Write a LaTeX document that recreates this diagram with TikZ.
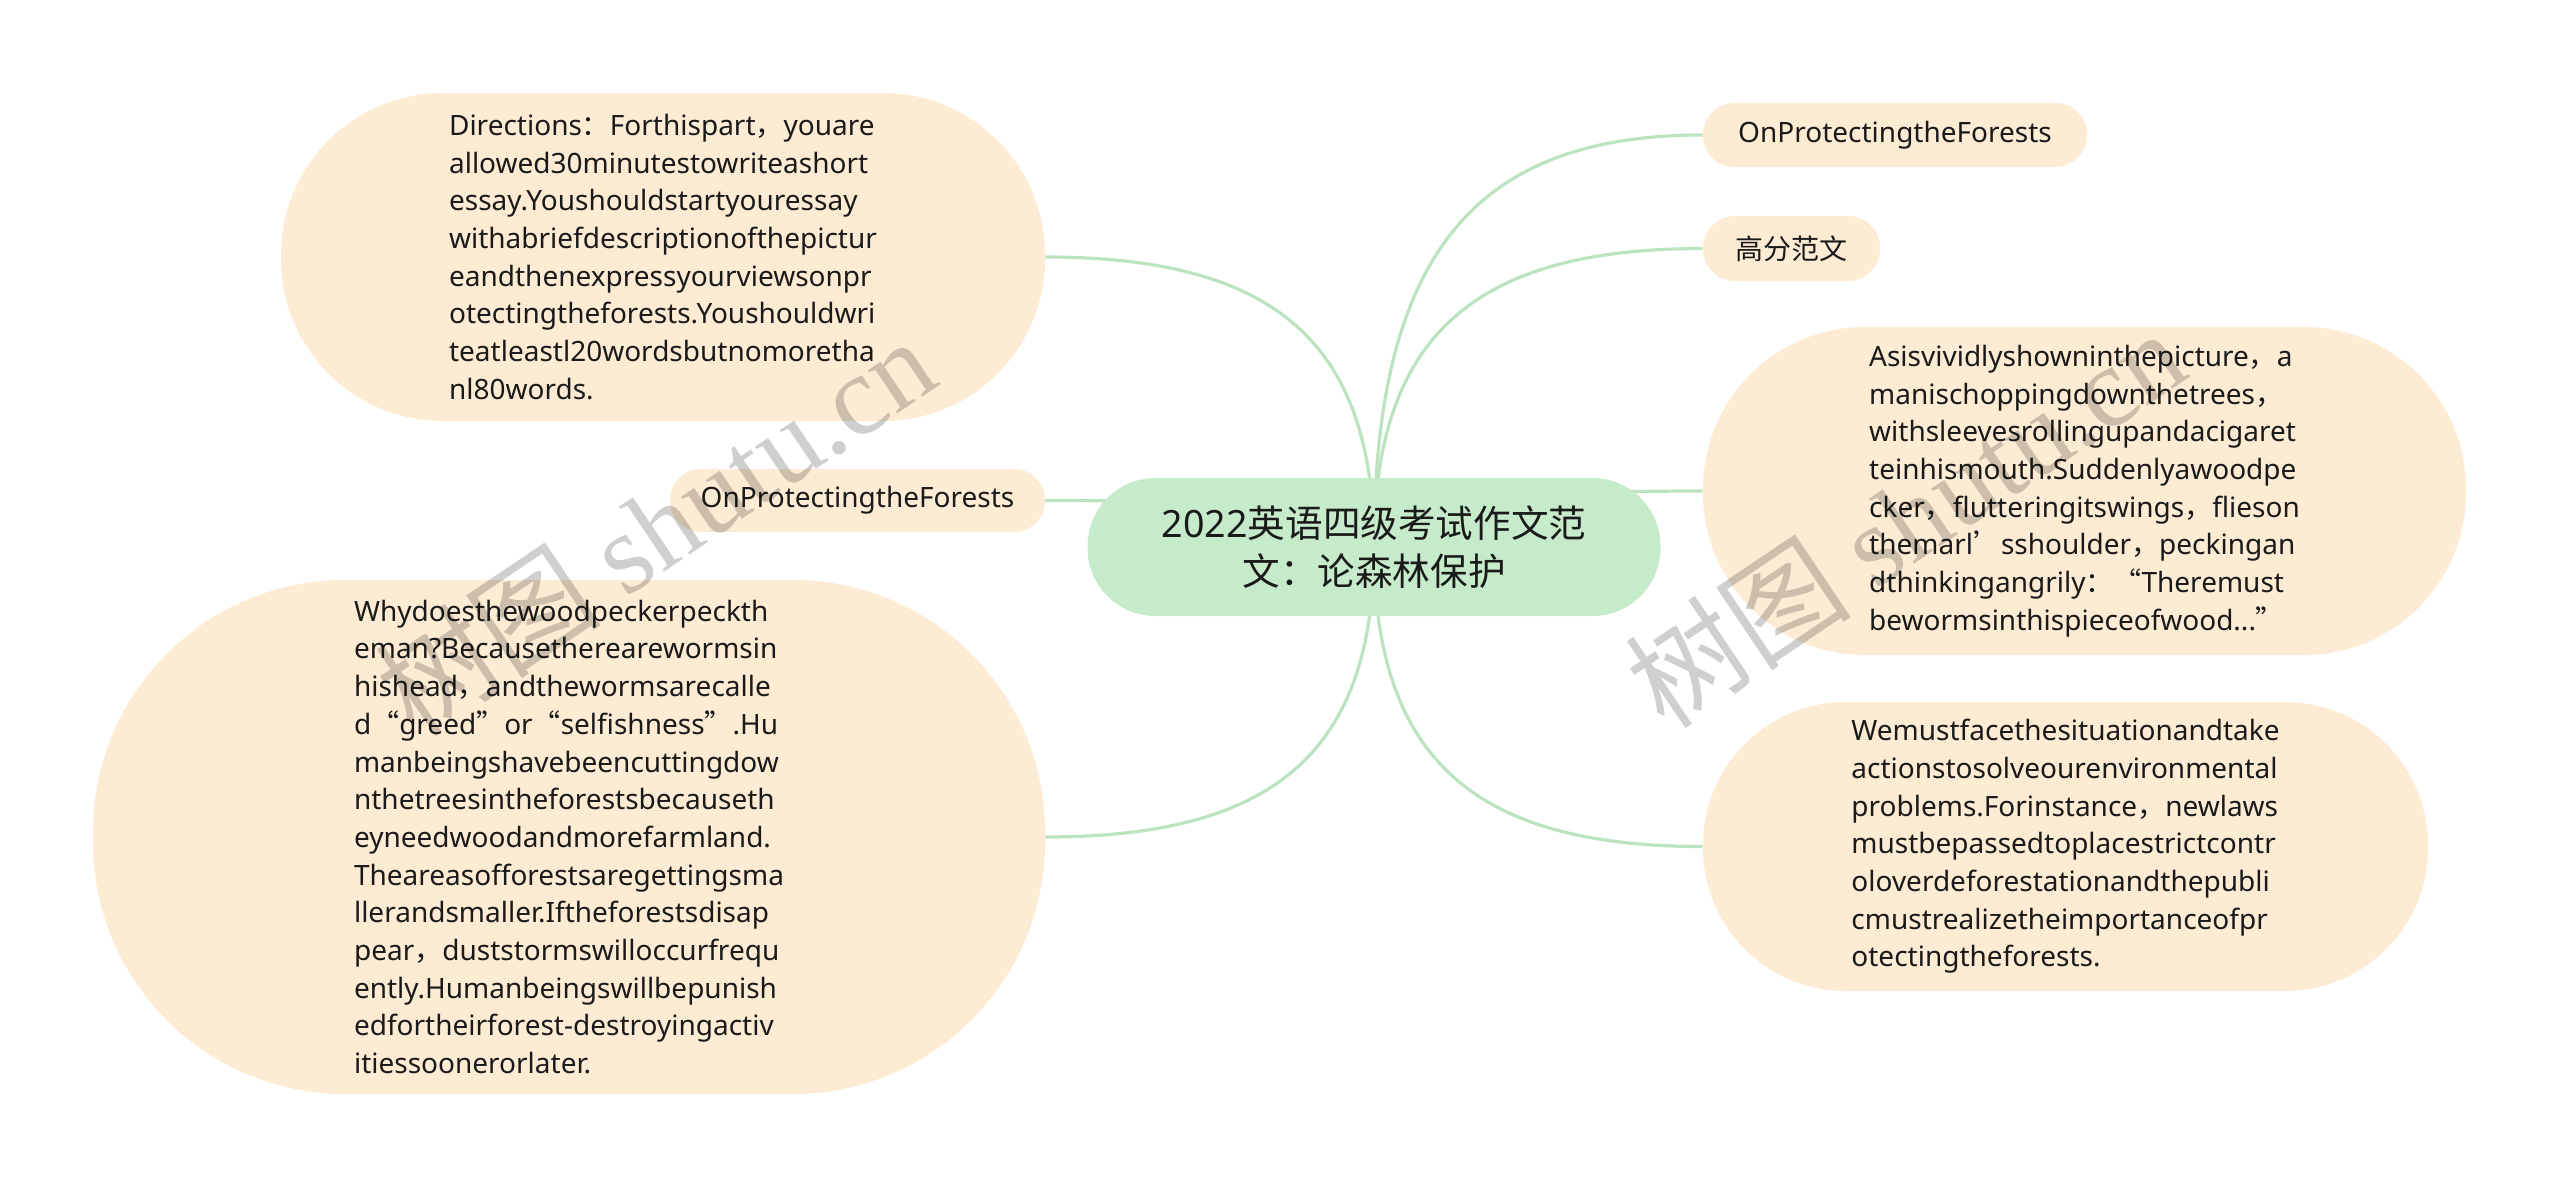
\documentclass[tikz,border=0pt]{standalone}
\usepackage{fontspec}
\setmainfont{Noto Sans}
\newfontfamily\cjk{Noto Sans CJK SC}
\newfontfamily\wmserif{Liberation Serif}
\newcommand{\C}[1]{{\cjk #1}}
\definecolor{rootfill}{HTML}{C6EBCA}
\definecolor{leaffill}{HTML}{FDEBD4}
\definecolor{linecol}{HTML}{BCE3C0}
\definecolor{textcol}{HTML}{1A1A1A}
\pgfdeclarelayer{bg}
\pgfdeclarelayer{fg}
\pgfsetlayers{bg,main,fg}
\tikzset{
  leaf/.style={fill=leaffill, inner sep=0pt, align=left, text=textcol,
    font=\fontsize{14pt}{18.85pt}\selectfont},
  rootbox/.style={fill=rootfill, inner sep=0pt, align=center, text=textcol,
    font=\fontsize{18.8pt}{24pt}\selectfont, minimum width=286.5pt,
    minimum height=69pt, rounded corners=34pt},
  conn/.style={draw=linecol, line width=1.6pt},
  wm/.style={text=black, text opacity=0.19, inner sep=0pt,
    font=\fontsize{57pt}{62pt}\selectfont, rotate=34}
}
\begin{document}
\begin{tikzpicture}[x=0.5pt,y=-0.5pt]
\useasboundingbox (0,0) rectangle (2560,1189);

\node[rootbox] (root) at (1374,547) {2022\C{英语四级考试作文范}\\\C{文：论森林保护}};

\node[leaf, minimum width=192pt, minimum height=32pt, rounded corners=15.8pt] (n1) at (1895,135) {OnProtectingtheForests};
\node[leaf, minimum width=88.5pt, minimum height=32.5pt, rounded corners=16pt] (n2) at (1791.5,248.5) {\C{高分范文}};
\node[leaf, minimum width=381.5pt, minimum height=164pt, rounded corners=81pt] (n3) at (2084.5,491) {%
Asisvividlyshowninthepicture\C{，}a\\
manischoppingdownthetrees\C{，}\\
withsleevesrollingupandacigaret\\
teinhismouth.Suddenlyawoodpe\\
cker\C{，}flutteringitswings\C{，}flieson\\
themarl\C{’}sshoulder\C{，}peckingan\\
dthinkingangrily\C{：}\C{“}Theremust\\
bewormsinthispieceofwood...\C{”}};
\node[leaf, minimum width=362.5pt, minimum height=144.5pt, rounded corners=71.5pt] (n4) at (2065.5,846.5) {%
Wemustfacethesituationandtake\\
actionstosolveourenvironmental\\
problems.Forinstance\C{，}newlaws\\
mustbepassedtoplacestrictcontr\\
oloverdeforestationandthepubli\\
cmustrealizetheimportanceofpr\\
otectingtheforests.};
\node[leaf, minimum width=382pt, minimum height=164pt, rounded corners=81pt] (n5) at (663,257) {%
Directions\C{：}Forthispart\C{，}youare\\
allowed30minutestowriteashort\\
essay.Youshouldstartyouressay\\
withabriefdescriptionofthepictur\\
eandthenexpressyourviewsonpr\\
otectingtheforests.Youshouldwri\\
teatleastl20wordsbutnomoretha\\
nl80words.};
\node[leaf, minimum width=187.5pt, minimum height=31.5pt, rounded corners=15.5pt] (n6) at (857.5,500.5) {OnProtectingtheForests};
\node[leaf, minimum width=476pt, minimum height=257pt, rounded corners=126pt] (n7) at (569,837) {%
Whydoesthewoodpeckerpeckth\\
eman?Becausetherearewormsin\\
hishead\C{，}andthewormsarecalle\\
d\C{“}greed\C{”}or\C{“}selfishness\C{”}.Hu\\
manbeingshavebeencuttingdow\\
nthetreesintheforestsbecauseth\\
eyneedwoodandmorefarmland.\\
Theareasofforestsaregettingsma\\
llerandsmaller.Iftheforestsdisap\\
pear\C{，}duststormswilloccurfrequ\\
ently.Humanbeingswillbepunish\\
edfortheirforest-destroyingactiv\\
itiessoonerorlater.};

\begin{pgfonlayer}{bg}
\fill[white] (0,0) rectangle (2560,1189);
\draw[conn] (root.center) .. controls +(0,-297) and +(-224,0) .. (n1.west);
\draw[conn] (root.center) .. controls +(0,-215) and +(-224,0) .. (n2.west);
\draw[conn] (root.center) .. controls +(0,-40) and +(-224,0) .. (n3.west);
\draw[conn] (root.center) .. controls +(0,216) and +(-224,0) .. (n4.west);
\draw[conn] (root.center) .. controls +(0,-209) and +(224,0) .. (n5.east);
\draw[conn] (root.center) .. controls +(0,-34) and +(224,0) .. (n6.east);
\draw[conn] (root.center) .. controls +(0,209) and +(224,0) .. (n7.east);
\end{pgfonlayer}

\begin{pgfonlayer}{fg}
\node[wm] (wm1) at (655,526) {\cjk 树图\ \wmserif shutu.cn};
\node[wm] (wm2) at (1905,518) {\cjk 树图\ \wmserif shutu.cn};
\end{pgfonlayer}
\end{tikzpicture}
\end{document}
